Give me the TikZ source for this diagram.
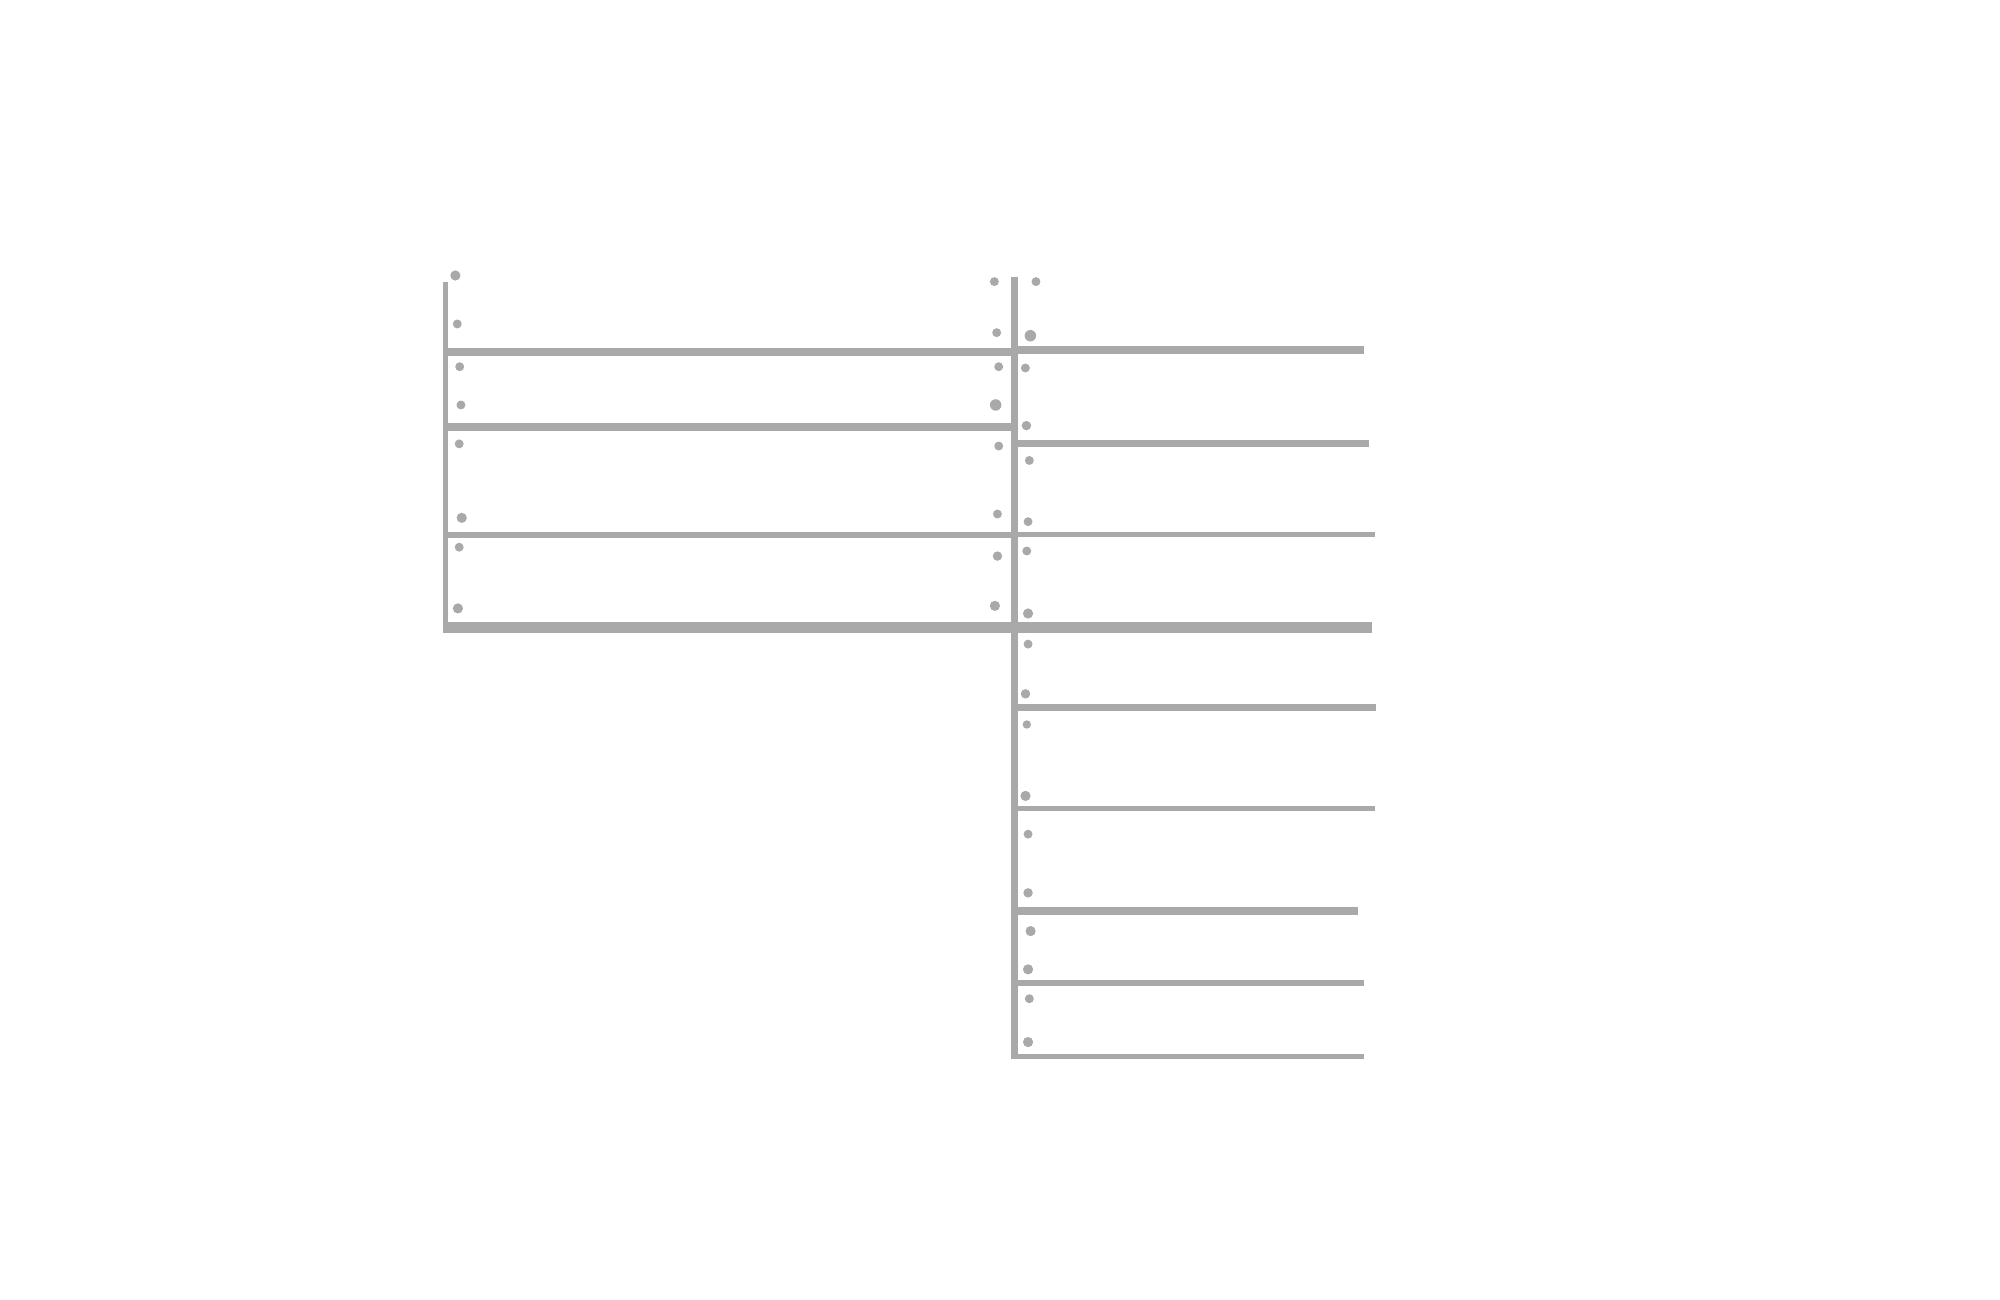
\documentclass[tikz,border=0pt]{standalone}
\usepackage{tikz}
\usetikzlibrary{positioning}
\definecolor{shelfgray}{RGB}{169,169,169}
\tikzset{
  frame/.style  = {draw=shelfgray, line width=0.4mm, line cap=rect},
  post/.style   = {draw=shelfgray, line width=0.52mm},
  board/.style  = {draw=shelfgray, line cap=butt},
  peg/.style    = {fill=shelfgray, draw=none}
}

\begin{document}
\begin{tikzpicture}[x=0.1mm, y=-0.1mm]

\useasboundingbox (0,0) rectangle (1568,1019);

% outer frame of the left unit and the middle post
\draw[frame] (349,223) -- (349,494);
\draw[post] (795.5,217) -- (795.5,830);

% boards of the left unit: height / thickness
\foreach \ypos/\thick in {276/0.68mm, 335/0.6mm, 419.5/0.5mm}
  \draw[board, line width=\thick] (349,\ypos) -- (795.5,\ypos);

% long bottom beam through both units
\draw[board, line width=0.8mm] (347,492) -- (1076,492);

% boards of the right unit: height / right end / thickness
\foreach \ypos/\xend/\thick in {274.7/1069/0.62mm, 347.6/1073/0.56mm, 419.2/1078/0.36mm,
    554.5/1079/0.52mm, 634/1078/0.4mm, 714/1065/0.6mm, 770.5/1069/0.5mm, 828/1069/0.4mm}
  \draw[board, line width=\thick] (795.5,\ypos) -- (\xend,\ypos);

% peg holes, left side of the left unit
\foreach \xpos/\ypos/\rad in {357/216/0.4mm, 358.5/254/0.35mm, 360.4/287.5/0.35mm, 361.4/317.5/0.35mm,
    360/348/0.35mm, 362/406/0.4mm, 360/429/0.35mm, 359/477/0.4mm}
  \fill[peg] (\xpos,\ypos) circle (\rad);

% peg holes, right side of the left unit
\foreach \xpos/\ypos/\rad in {779.6/220.8/0.35mm, 781.4/260.8/0.35mm, 783/287.5/0.35mm, 780.6/317.5/0.45mm,
    783/349.7/0.35mm, 782/403/0.35mm, 782/436/0.37mm, 780/475/0.4mm}
  \fill[peg] (\xpos,\ypos) circle (\rad);

% peg holes of the right unit
\foreach \xpos/\ypos/\rad in {812.2/220.8/0.35mm, 807.8/263.2/0.45mm, 803.9/288.5/0.35mm, 804.7/333.7/0.37mm,
    807/361/0.35mm, 806/409/0.35mm, 805/432/0.35mm, 806/481/0.4mm,
    806/505/0.35mm, 804/544/0.37mm, 805/568/0.33mm, 804/624/0.4mm,
    806/654/0.35mm, 806/700/0.37mm, 808/730/0.4mm, 806/760/0.4mm,
    807/783/0.35mm, 806/817/0.4mm}
  \fill[peg] (\xpos,\ypos) circle (\rad);

\end{tikzpicture}
\end{document}
